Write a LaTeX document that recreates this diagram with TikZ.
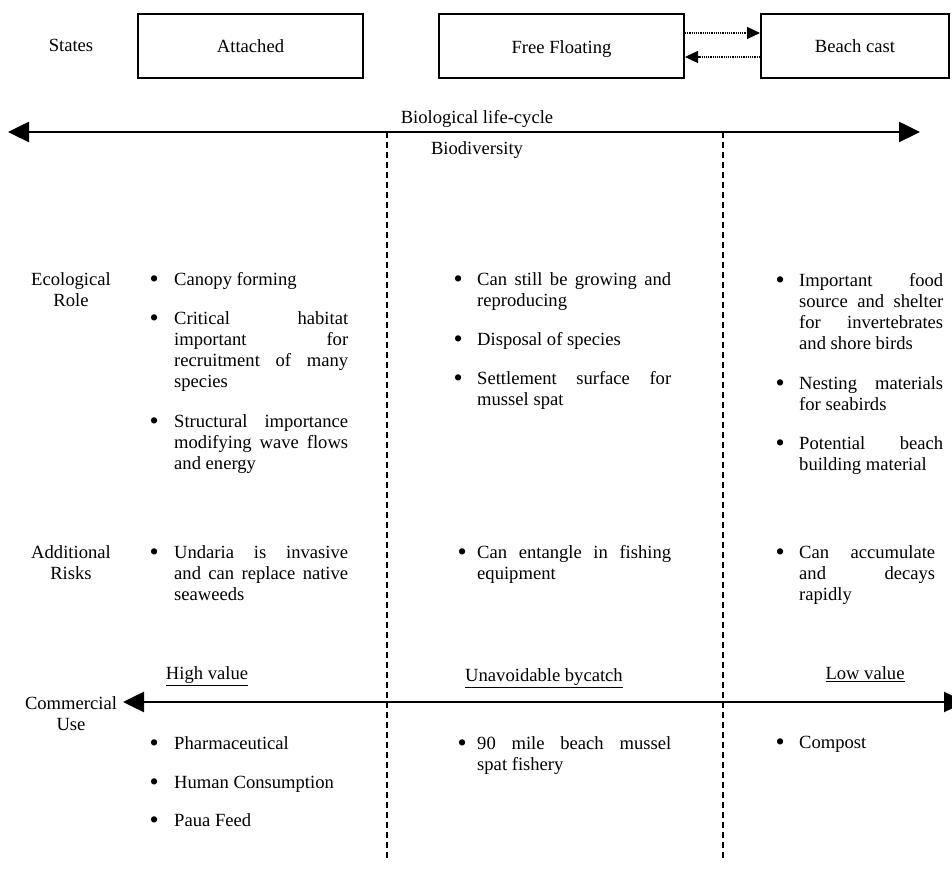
\documentclass[tikz,border=0pt]{standalone}
\usepackage{fontspec}
\usepackage{graphicx}
\setmainfont{Liberation Serif}
\usetikzlibrary{arrows.meta}
\newcommand\jl[2]{\makebox[#1][s]{#2}}
\newcommand\bul[1]{\llap{\makebox[0pt]{\raisebox{-1.6pt}{\scalebox{1.4}{\textbullet}}}\hspace*{#1}}}
\begin{document}
\begin{tikzpicture}[x=1pt,y=1pt,
  every node/.style={font=\fontsize{18.6}{21}\selectfont, inner sep=0pt},
  statebox/.style={draw, line width=2pt, minimum height=64pt, text height=13pt, text depth=0pt},
  itm/.style={anchor=base west},
  lbl/.style={anchor=base},
  bigarrow/.style={line width=2.5pt, {Triangle[length=21pt,width=20pt]}-{Triangle[length=21pt,width=20pt]}},
  dotarrow/.style={line width=1.2pt, densely dotted, -{Triangle[length=13pt,width=12pt]}},
  divider/.style={line width=1.2pt, dash pattern=on 6pt off 4pt}
]
\useasboundingbox (0,0) rectangle (952,869);

% states row
\node[lbl] (st) at (71,817) {States};
\node[statebox, minimum width=225pt] (att) at (250.5,823) {Attached};
\node[statebox, minimum width=245pt, text height=16pt] (ffl) at (561.5,823) {Free Floating};
\node[statebox, minimum width=188pt] (bc) at (855,823) {Beach cast};
\draw[dotarrow] ([yshift=13pt]ffl.east) -- ([yshift=13pt]bc.west);
\draw[dotarrow] ([yshift=-11pt]bc.west) -- ([yshift=-11pt]ffl.east);

% life-cycle arrow
\coordinate (lcL) at (8,737);
\coordinate (lcR) at (920,737);
\draw[bigarrow] (lcL) -- (lcR);
\node[lbl] (blc) at (477,745.5) {Biological life-cycle};
\node[lbl] (bdv) at (477,714) {Biodiversity};

% dividers
\coordinate (d1t) at (387,737);
\coordinate (d1b) at (387,11);
\coordinate (d2t) at (723,737);
\coordinate (d2b) at (723,11);
\draw[divider] (d1t) -- (d1b);
\draw[divider] (d2t) -- (d2b);

% ecological role
\node[lbl] (eco) at (71,583) {\parbox[t]{120pt}{\centering Ecological\\Role}};
\node[itm] (c1a) at (174,583) {\bul{20pt}Canopy forming};
\node[itm] (c1b) at (174,544) {\bul{20pt}\parbox[t]{174pt}{\jl{174pt}{Critical habitat}\\\jl{174pt}{important for}\\\jl{174pt}{recruitment of many}\\species}};
\node[itm] (c1c) at (174,441) {\bul{20pt}\parbox[t]{174pt}{\jl{174pt}{Structural importance}\\\jl{174pt}{modifying wave flows}\\and energy}};
\node[itm] (c2a) at (477,583) {\bul{19pt}\parbox[t]{194pt}{\jl{194pt}{Can still be growing and}\\reproducing}};
\node[itm] (c2b) at (477,523) {\bul{19pt}Disposal of species};
\node[itm] (c2c) at (477,484) {\bul{19pt}\parbox[t]{194pt}{\jl{194pt}{Settlement surface for}\\mussel spat}};
\node[itm] (c3a) at (799,582) {\bul{19pt}\parbox[t]{144pt}{\jl{144pt}{Important food}\\\jl{144pt}{source and shelter}\\\jl{144pt}{for invertebrates}\\and shore birds}};
\node[itm] (c3b) at (799,479.5) {\bul{19pt}\parbox[t]{144pt}{\jl{144pt}{Nesting materials}\\for seabirds}};
\node[itm] (c3c) at (799,419) {\bul{19pt}\parbox[t]{144pt}{\jl{144pt}{Potential beach}\\building material}};

% additional risks
\node[lbl] (risk) at (71,310) {\parbox[t]{120pt}{\centering Additional\\Risks}};
\node[itm] (r1) at (174,310) {\bul{20pt}\parbox[t]{174pt}{\jl{174pt}{Undaria is invasive}\\\jl{174pt}{and can replace native}\\seaweeds}};
\node[itm] (r2) at (477,310) {\bul{15pt}\parbox[t]{194pt}{\jl{194pt}{Can entangle in fishing}\\equipment}};
\node[itm] (r3) at (799,310) {\bul{19pt}\parbox[t]{136pt}{\jl{136pt}{Can accumulate}\\\jl{136pt}{and decays}\\rapidly}};

% commercial use
\node[lbl] (com) at (71,159) {\parbox[t]{120pt}{\centering Commercial\\Use}};
\coordinate (cuL) at (123,167);
\coordinate (cuR) at (965,167);
\draw[bigarrow] (cuL) -- (cuR);
\node[lbl] (hv) at (207,189) {\underline{High value}};
\node[lbl] (ub) at (544,187) {\underline{Unavoidable bycatch}};
\node[lbl] (lv) at (865,189) {\underline{Low value}};
\node[itm] (p1) at (174,119) {\bul{20pt}Pharmaceutical};
\node[itm] (p2) at (174,80) {\bul{20pt}Human Consumption};
\node[itm] (p3) at (174,42) {\bul{20pt}Paua Feed};
\node[itm] (m1) at (477,119) {\bul{15pt}\parbox[t]{194pt}{\jl{194pt}{90 mile beach mussel}\\spat fishery}};
\node[itm] (k1) at (799,120) {\bul{19pt}Compost};
\end{tikzpicture}
\end{document}
